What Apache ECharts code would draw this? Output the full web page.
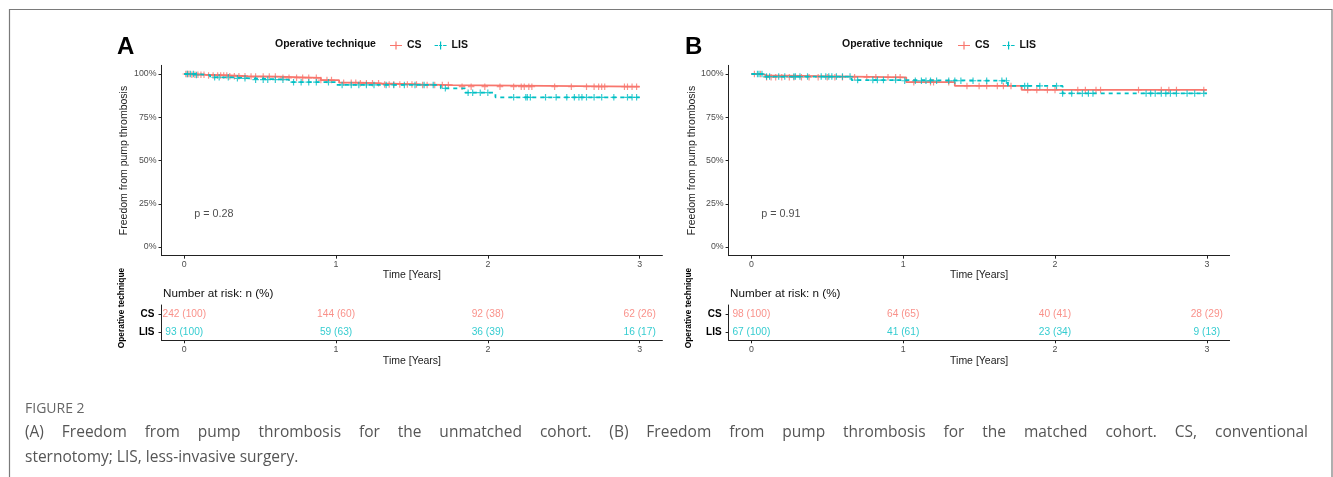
<!DOCTYPE html>
<html><head><meta charset="utf-8">
<script src="https://cdn.jsdelivr.net/npm/echarts@6/dist/echarts.min.js"></script>
<style>html,body{margin:0;padding:0;background:#fff}#c{width:1333px;height:477px}</style>
</head><body><div id="c"></div>
<script>
// ---------- data ----------
const timeTicks = [0, 1, 2, 3];
const survTicks = [0, 0.25, 0.5, 0.75, 1];
const groups = ['CS', 'LIS'];
const panelLabels = ['A', 'B'];
const pValues = ['0.28', '0.91'];

// Kaplan-Meier steps [time, survival] (panel A: unmatched, panel B: matched)
const aCsCurve = [[0,1],[0.05,0.996],[0.14,0.992],[0.3,0.987],[0.42,0.985],[0.62,0.978],[0.9,0.965],[1.02,0.95],[1.16,0.946],[1.3,0.94],[1.56,0.936],[1.77,0.927],[3,0.927]];
const aLisCurve = [[0,1],[0.075,0.994],[0.17,0.981],[0.31,0.975],[0.43,0.967],[0.69,0.953],[1.0,0.937],[1.69,0.917],[1.85,0.892],[2.05,0.865],[3,0.865]];
const bCsCurve = [[0,1],[0.07,0.992],[0.1,0.981],[1.02,0.953],[1.34,0.931],[1.78,0.908],[3,0.908]];
const bLisCurve = [[0,1],[0.08,0.985],[0.66,0.965],[1.0,0.961],[1.69,0.931],[2.05,0.888],[3,0.888]];

// censoring times
const aCsCensor = [0.01,0.02,0.03,0.05,0.07,0.09,0.11,0.13,0.16,0.19,0.22,0.24,0.26,0.28,0.3,0.33,0.36,0.4,0.44,0.47,0.52,0.56,0.6,0.65,0.69,0.74,0.78,0.82,0.87,0.9,0.94,0.97,1.05,1.1,1.13,1.16,1.2,1.24,1.28,1.32,1.35,1.38,1.42,1.47,1.5,1.53,1.57,1.6,1.65,1.7,1.74,1.83,1.89,1.98,2.08,2.17,2.22,2.24,2.27,2.29,2.44,2.55,2.65,2.7,2.73,2.75,2.77,2.9,2.92,2.95,2.98];
const aLisCensor = [0.02,0.04,0.06,0.08,0.2,0.23,0.29,0.35,0.4,0.47,0.52,0.55,0.6,0.65,0.72,0.77,0.82,0.87,0.95,1.04,1.1,1.15,1.2,1.25,1.33,1.38,1.45,1.52,1.58,1.64,1.72,1.87,1.9,1.95,2.0,2.17,2.25,2.26,2.28,2.38,2.45,2.52,2.57,2.6,2.62,2.65,2.7,2.75,2.83,2.92,2.95,2.98];
const bCsCensor = [0.02,0.06,0.1,0.13,0.16,0.2,0.25,0.28,0.33,0.38,0.44,0.5,0.55,0.6,0.68,0.76,0.82,0.9,0.95,0.98,1.07,1.18,1.2,1.3,1.42,1.5,1.55,1.62,1.66,1.71,1.82,1.88,1.95,2.0,2.15,2.2,2.27,2.3,2.55,2.7,2.75,2.8,2.98];
const bLisCensor = [0.04,0.05,0.07,0.1,0.12,0.18,0.22,0.28,0.29,0.32,0.37,0.46,0.49,0.51,0.53,0.56,0.6,0.65,0.7,0.8,0.83,0.87,0.95,1.01,1.08,1.12,1.15,1.18,1.22,1.3,1.34,1.38,1.46,1.55,1.65,1.68,1.8,1.82,1.9,2.01,2.05,2.11,2.18,2.22,2.25,2.6,2.63,2.66,2.7,2.73,2.76,2.8,2.87,2.92,2.98];

// number at risk: n and (%)
const aCsRiskN = [242, 144, 92, 62];
const aCsRiskPct = [100, 60, 38, 26];
const aLisRiskN = [93, 59, 36, 16];
const aLisRiskPct = [100, 63, 39, 17];
const bCsRiskN = [98, 64, 40, 28];
const bCsRiskPct = [100, 65, 41, 29];
const bLisRiskN = [67, 41, 23, 9];
const bLisRiskPct = [100, 61, 34, 13];

// ---------- styling / layout ----------
const RED = '#F8766D', TEAL = '#00BFC4';
const FONT = '"Liberation Sans", Arial, sans-serif';
const AXC = '#222';
const panels = [
  {x0:161.5, x1:662.4, letterX:117, legTitleX:275, legX:390,
   curves:[aCsCurve,aLisCurve], censors:[aCsCensor,aLisCensor],
   riskN:[aCsRiskN,aLisRiskN], riskPct:[aCsRiskPct,aLisRiskPct]},
  {x0:728.6, x1:1229.6, letterX:685, legTitleX:842, legX:958,
   curves:[bCsCurve,bLisCurve], censors:[bCsCensor,bLisCensor],
   riskN:[bCsRiskN,bLisRiskN], riskPct:[bCsRiskPct,bLisRiskPct]}
];
const colors = [RED, TEAL];
const PLOT_TOP = 65.35, PLOT_H = 190.3, RISK_TOP = 305, RISK_H = 35.3;
const plusIcon = 'path://M0,4.1h10v1.8H0z M4.1,0h1.8v10H4.1z';
const legIcons = ['path://M0,5.4h12v1.2H0z M5.4,2h1.2v8h-1.2z',
                  'path://M0,5.4h3.5v1.2H0z M4.5,5.4h3v1.2h-3z M8.5,5.4h3.5v1.2H8.5z M5.4,2h1.2v8h-1.2z'];

function survAt(curve, t) {
  let s = curve[0][1];
  for (const p of curve) { if (p[0] <= t) s = p[1]; else break; }
  return s;
}

const grid = [], xAxis = [], yAxis = [], series = [], legend = [], graphic = [];

function timeAxis(gi, margin, gap) {
  return {
    type:'value', gridIndex:gi, min:-0.15, max:3.15,
    axisLine:{show:true, onZero:false, lineStyle:{color:AXC, width:1}},
    axisTick:{show:true, customValues:timeTicks, length:3, lineStyle:{color:AXC}},
    axisLabel:{customValues:timeTicks, fontSize:8.8, color:'#4d4d4d', margin:margin, fontFamily:FONT},
    splitLine:{show:false},
    name:'Time [Years]', nameLocation:'middle', nameGap:gap,
    nameTextStyle:{fontSize:10.5, color:AXC, fontFamily:FONT}
  };
}

panels.forEach((P, i) => {
  const gP = grid.length;
  grid.push({left:P.x0, top:PLOT_TOP, width:P.x1-P.x0, height:PLOT_H, outerBoundsMode:'none'});
  const gR = grid.length;
  grid.push({left:P.x0, top:RISK_TOP, width:P.x1-P.x0, height:RISK_H, outerBoundsMode:'none'});

  const xP = xAxis.length; xAxis.push(timeAxis(gP, 4, 13.5));
  const xR = xAxis.length; xAxis.push(timeAxis(gR, 5.2, 14.7));

  const yP = yAxis.length;
  yAxis.push({
    type:'value', gridIndex:gP, min:-0.05, max:1.05,
    axisLine:{show:true, onZero:false, lineStyle:{color:AXC, width:1}},
    axisTick:{show:true, customValues:survTicks, length:3, lineStyle:{color:AXC}},
    axisLabel:{customValues:survTicks, formatter:v=>Math.round(v*100)+'%', fontSize:8.8, color:'#4d4d4d', margin:5, fontFamily:FONT},
    splitLine:{show:false},
    name:'Freedom from pump thrombosis', nameLocation:'middle', nameGap:30,
    nameTextStyle:{fontSize:10.5, color:AXC, fontFamily:FONT}
  });
  const yR = yAxis.length;
  yAxis.push({
    type:'value', gridIndex:gR, min:0.545, max:2.55,
    axisLine:{show:true, onZero:false, lineStyle:{color:AXC, width:1}},
    axisTick:{show:true, customValues:[1,2], length:3, lineStyle:{color:AXC}},
    axisLabel:{customValues:[1,2], formatter:v=>groups[2-v], fontSize:10, fontWeight:'bold', color:'#000', margin:7, fontFamily:FONT},
    splitLine:{show:false}
  });

  groups.forEach((g, k) => {
    series.push({
      type:'line', name:g, xAxisIndex:xP, yAxisIndex:yP, step:'end', symbol:'none',
      data:P.curves[k], itemStyle:{color:colors[k]},
      lineStyle:{color:colors[k], width:1.8, type: k===0 ? 'solid' : [4,4]},
      silent:true, animation:false, z:3+k
    });
  });
  groups.forEach((g, k) => {
    series.push({
      type:'scatter', name:g+' censored', xAxisIndex:xP, yAxisIndex:yP,
      symbol:plusIcon, symbolSize:6.5,
      data:P.censors[k].map(t=>[t, survAt(P.curves[k], t)]),
      itemStyle:{color:colors[k]}, silent:true, animation:false, z:3+k
    });
  });
  // p-value annotation
  series.push({
    type:'scatter', xAxisIndex:xP, yAxisIndex:yP, symbolSize:0, data:[[0.065, 0.19]],
    label:{show:true, position:'right', distance:0, formatter:'p = '+pValues[i], fontSize:10.8, color:AXC, fontFamily:FONT},
    silent:true, animation:false
  });
  // risk table
  groups.forEach((g, k) => {
    series.push({
      type:'scatter', xAxisIndex:xR, yAxisIndex:yR, symbolSize:0,
      data:timeTicks.map(t=>[t, 2-k]),
      label:{show:true, position:'inside', fontSize:10.2, color:colors[k], fontFamily:FONT,
        formatter:p=>P.riskN[k][p.dataIndex]+' ('+P.riskPct[k][p.dataIndex]+')'},
      silent:true, animation:false
    });
  });

  legend.push({
    left:P.legX, top:40, padding:0, orient:'horizontal', itemWidth:12, itemHeight:12, itemGap:13,
    data:groups.map((g,k)=>({name:g, icon:legIcons[k], itemStyle:{color:colors[k]}})),
    textStyle:{fontSize:10.5, fontWeight:'bold', color:'#111', fontFamily:FONT},
    selectedMode:false
  });

  graphic.push({type:'text', x:P.letterX, y:47.5, style:{text:panelLabels[i], font:'bold 24px '+FONT, fill:'#000', verticalAlign:'middle'}});
  graphic.push({type:'text', x:P.legTitleX, y:44.5, style:{text:'Operative technique', font:'bold 10.5px '+FONT, fill:'#111', verticalAlign:'middle'}});
  graphic.push({type:'text', x:P.x0+1.5, y:294, style:{text:'Number at risk: n (%)', font:'11.7px '+FONT, fill:'#111', verticalAlign:'middle'}});
  graphic.push({type:'text', x:P.x0-39.8, y:308, rotation:Math.PI/2, style:{text:'Operative technique', font:'bold 8.4px '+FONT, fill:'#000', align:'center', verticalAlign:'middle'}});
});

// frame
graphic.push({type:'rect', shape:{x:9.5, y:9.5, width:1322.5, height:500}, style:{fill:'none', stroke:'#7a7a7a', lineWidth:1.2}, z:-1});

// caption
const CAP_FONT = '15.5px "Open Sans", "Noto Sans", sans-serif';
const capColor = '#555';
graphic.push({type:'text', x:25, y:409, style:{text:'FIGURE 2', font:'14px "Open Sans", "Noto Sans", sans-serif', fill:'#666', verticalAlign:'middle'}});
const line1 = '(A) Freedom from pump thrombosis for the unmatched cohort. (B) Freedom from pump thrombosis for the matched cohort. CS, conventional';
const line2 = 'sternotomy; LIS, less-invasive surgery.';
(function(){
  const ctx = document.createElement('canvas').getContext('2d');
  ctx.font = CAP_FONT;
  const words = line1.split(' ');
  const widths = words.map(w=>ctx.measureText(w).width);
  const total = widths.reduce((a,b)=>a+b,0);
  const x0 = 25, x1 = 1308;
  const gap = (x1 - x0 - total) / (words.length - 1);
  let x = x0;
  words.forEach((w, j) => {
    graphic.push({type:'text', x:x, y:433, style:{text:w, font:CAP_FONT, fill:capColor, verticalAlign:'middle'}});
    x += widths[j] + gap;
  });
})();
graphic.push({type:'text', x:25, y:458, style:{text:line2, font:CAP_FONT, fill:capColor, verticalAlign:'middle'}});

const chart = echarts.init(document.getElementById('c'), null, {renderer:'canvas'});
chart.setOption({
  backgroundColor:'#fff', animation:false,
  grid, xAxis, yAxis, series, legend, graphic,
  tooltip:{show:false}
});
</script>
</body></html>
